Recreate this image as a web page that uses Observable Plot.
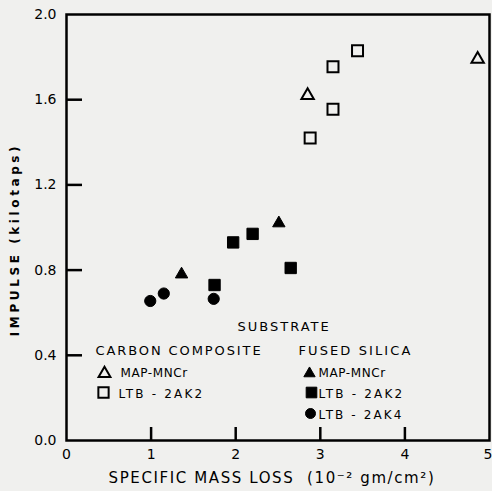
<!DOCTYPE html>
<html><head><meta charset="utf-8">
<script src="https://cdn.jsdelivr.net/npm/d3@7"></script>
<script src="https://cdn.jsdelivr.net/npm/@observablehq/plot@0.6"></script>
<style>
html,body{margin:0;padding:0;background:#f0f0ee;}
#chart{width:492px;height:491px;}
svg text{font-family:"DejaVu Sans",sans-serif;}
</style></head><body><div id="chart"></div>
<script>
// tick values
const xTickLabels=[0,1,2,3,4];
const xEdgeLabel=[5];
const yTickLabels=[0.0,0.4,0.8,1.2,1.6,2.0];
const xInnerTicks=[1,2,3,4];
const yInnerTicks=[0.4,0.8,1.2,1.6];

// Carbon composite substrate (open symbols)
const carbonMapX=[2.85,4.86];
const carbonMapY=[1.62,1.79];
const carbonLtb2X=[2.88,3.15,3.15,3.44];
const carbonLtb2Y=[1.42,1.555,1.755,1.83];

// Fused silica substrate (filled symbols)
const silicaMapX=[1.36,2.51];
const silicaMapY=[0.78,1.02];
const silicaLtb2X=[1.75,1.97,2.20,2.65];
const silicaLtb2Y=[0.73,0.93,0.97,0.81];
const silicaLtb4X=[0.99,1.15,1.74];
const silicaLtb4Y=[0.655,0.69,0.665];

const pts=(xs,ys)=>xs.map((x,i)=>({x,y:ys[i]}));

const W=492,H=491,mL=66,mR=3,mT=14,mB=51;
const innerW=W-mL-mR, innerH=H-mT-mB;

const legendText=(t,dx,dy,extra={})=>Plot.text([t],{text:d=>d,frameAnchor:"bottom-left",dx,dy,textAnchor:"start",lineAnchor:"bottom",fontSize:13,fill:"black",...extra});
const legendDot=(sym,filled,dx,dy,r)=>Plot.dot([0],{frameAnchor:"bottom-left",dx,dy,symbol:sym,r,fill:filled?"black":"none",stroke:"black",strokeWidth:filled?1:2});

const chart=Plot.plot({
  width:W,height:H,
  marginLeft:mL,marginRight:mR,marginTop:mT,marginBottom:mB,
  x:{domain:[0,5]},
  y:{domain:[0,2]},
  style:{background:"transparent",fontSize:"14px",fontFamily:"DejaVu Sans",color:"black"},
  marks:[
    Plot.frame({stroke:"black",strokeWidth:2.5}),
    Plot.tickX(xInnerTicks,{x:d=>d,insetTop:innerH-13,stroke:"black",strokeWidth:2.5}),
    Plot.tickY(yInnerTicks,{y:d=>d,insetRight:innerW-16,stroke:"black",strokeWidth:2.5}),
    Plot.axisX(xTickLabels,{tickSize:0,tickPadding:9,tickFormat:d=>String(d),label:null,fontSize:14}),
    Plot.text(xEdgeLabel,{x:d=>d,text:d=>String(d),frameAnchor:"bottom",textAnchor:"end",lineAnchor:"top",dx:3,dy:9,fontSize:14,fill:"black"}),
    Plot.axisY(yTickLabels,{tickSize:0,tickPadding:10,tickFormat:d3.format(".1f"),label:null,fontSize:14}),
    Plot.text(["IMPULSE (kilotaps)"],{text:d=>d,frameAnchor:"left",textAnchor:"middle",rotate:-90,dx:-51,dy:12,fontSize:12,fontWeight:"bold",fill:"black"}),
    Plot.text(["SPECIFIC MASS LOSS  (10\u207B\u00B2 gm/cm\u00B2)"],{text:d=>d,frameAnchor:"bottom",dx:-6,dy:42,fontSize:15,fill:"black"}),
    // data
    Plot.dot(pts(carbonMapX,carbonMapY),{x:"x",y:"y",symbol:"triangle",r:4.6,fill:"none",stroke:"black",strokeWidth:2}),
    Plot.dot(pts(carbonLtb2X,carbonLtb2Y),{x:"x",y:"y",symbol:"square",r:6.2,fill:"none",stroke:"black",strokeWidth:2}),
    Plot.dot(pts(silicaMapX,silicaMapY),{x:"x",y:"y",symbol:"triangle",r:4.6,fill:"black",stroke:"black",strokeWidth:1}),
    Plot.dot(pts(silicaLtb2X,silicaLtb2Y),{x:"x",y:"y",symbol:"square",r:6.4,fill:"black",stroke:"black",strokeWidth:1}),
    Plot.dot(pts(silicaLtb4X,silicaLtb4Y),{x:"x",y:"y",symbol:"circle",r:5.6,fill:"black",stroke:"black",strokeWidth:1}),
    // legend
    legendText("SUBSTRATE",171,-110),
    legendText("CARBON COMPOSITE",29,-86),
    legendText("FUSED SILICA",232,-86),
    legendDot("triangle",false,38,-67,4.4),
    legendText("MAP-MNCr",54,-64,{fontSize:12}),
    legendDot("square",false,37,-48,5.8),
    legendText("LTB - 2AK2",52,-43,{fontSize:12}),
    legendDot("triangle",true,243,-67,4.2),
    legendText("MAP-MNCr",252,-64,{fontSize:12}),
    legendDot("square",true,245,-48,6),
    legendText("LTB - 2AK2",252,-43,{fontSize:12}),
    legendDot("circle",true,244,-27,5),
    legendText("LTB - 2AK4",252,-22,{fontSize:12})
  ]
});
// letter tracking of the hand-lettered original
const tracking={"SUBSTRATE":2,"CARBON COMPOSITE":1.9,"FUSED SILICA":2.1,"MAP-MNCr":0.6,"LTB - 2AK2":2.2,"LTB - 2AK4":2.1,"IMPULSE (kilotaps)":3.6};
d3.select(chart).selectAll("text").each(function(){
  const t=this.textContent;
  if(t in tracking) this.style.letterSpacing=tracking[t]+"px";
  else if(t.startsWith("SPECIFIC")) this.style.letterSpacing="1.6px";
});
document.getElementById("chart").appendChild(chart);
</script>
</body></html>
